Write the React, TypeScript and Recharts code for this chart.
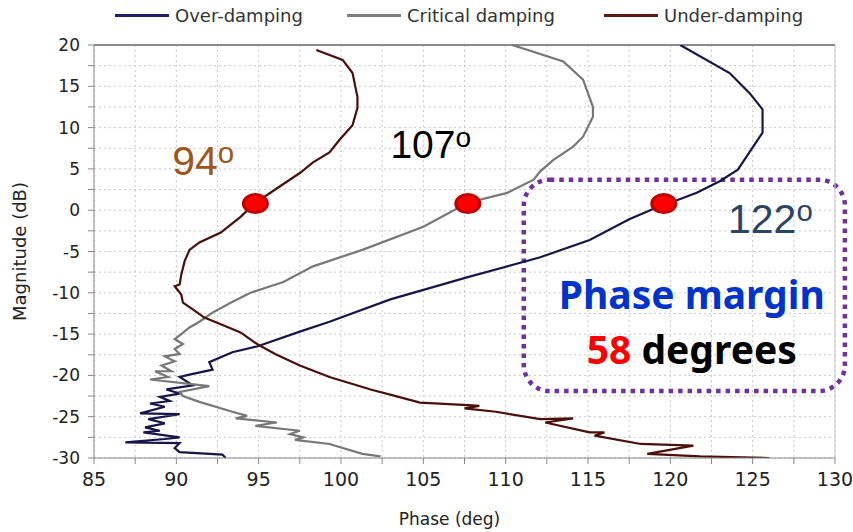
import React from "react";
import {
  LineChart,
  Line,
  XAxis,
  YAxis,
  CartesianGrid,
  ReferenceDot,
  ReferenceArea,
  ReferenceLine,
  Legend,
  Label,
} from "recharts";

// phase (deg), magnitude (dB)
const overDamping = [
  [120.6, 20.0], [123.6, 16.6], [124.8, 14.2], [125.6, 12.2], [125.6, 9.4], [124.8, 7.0],
  [124.1, 4.9], [123.0, 3.5], [121.6, 2.1], [120.4, 1.2], [119.6, 0.7], [117.5, -1.1],
  [115.1, -3.6], [112.1, -5.7], [107.7, -8.1], [103.0, -10.8], [99.3, -13.5], [97.5, -14.7],
  [94.9, -16.5], [93.4, -17.2], [92.0, -18.4], [92.2, -19.3], [90.8, -19.9], [90.2, -20.2],
  [91.0, -21.2], [89.4, -21.7], [90.2, -22.2], [89.0, -22.6], [89.6, -23.1], [88.4, -23.4],
  [89.3, -23.8], [87.8, -24.6], [90.2, -24.7], [88.3, -25.3], [89.3, -25.8], [88.1, -26.3],
  [89.0, -26.7], [88.0, -26.9], [90.2, -27.5], [89.3, -27.7], [86.9, -28.1], [90.2, -28.2],
  [89.9, -28.8], [90.2, -29.3], [92.8, -29.6], [93.0, -30.0],
];

const criticalDamping = [
  [110.4, 20.0], [113.5, 18.0], [114.7, 15.8], [115.3, 12.5], [115.3, 11.3], [114.7, 8.9],
  [114.1, 7.7], [112.9, 6.1], [112.1, 4.7], [111.7, 3.7], [110.1, 2.1], [107.7, 0.9],
  [105.0, -2.0], [101.3, -4.8], [98.3, -6.8], [96.5, -8.7], [94.5, -10.0], [93.3, -11.2],
  [92.2, -12.4], [91.4, -13.5], [90.8, -14.2], [90.3, -15.0], [89.9, -15.6], [90.4, -16.2],
  [89.9, -16.8], [90.2, -17.4], [89.3, -17.7], [89.9, -18.3], [89.1, -18.8], [89.7, -19.5],
  [88.7, -19.5], [89.5, -20.2], [88.4, -20.5], [92.0, -21.3], [90.2, -22.0], [90.4, -22.5],
  [91.4, -23.2], [93.4, -24.4], [94.3, -24.9], [93.6, -25.2], [96.1, -25.7], [94.8, -26.1],
  [97.5, -26.7], [96.9, -27.1], [97.7, -27.5], [97.2, -27.8], [99.3, -28.3], [101.3, -29.5],
  [102.4, -29.8],
];

const underDamping = [
  [98.5, 19.4], [100.1, 18.2], [100.7, 16.6], [101.0, 13.7], [101.0, 12.4], [100.7, 10.3],
  [99.9, 8.5], [99.3, 7.0], [98.3, 5.8], [97.5, 4.5], [96.3, 2.9], [94.8, 0.9],
  [93.9, -0.8], [92.7, -2.7], [91.4, -3.9], [90.8, -4.8], [90.5, -6.2], [90.3, -7.8],
  [90.2, -9.0], [89.9, -9.2], [90.3, -10.2], [90.4, -11.2], [91.0, -12.0], [91.7, -13.0],
  [92.7, -13.8], [93.9, -14.8], [94.9, -16.2], [96.0, -17.4], [97.5, -18.8], [99.3, -20.2],
  [101.8, -21.7], [103.5, -22.6], [104.8, -23.3], [107.7, -23.6], [108.4, -23.7], [107.5, -24.0],
  [109.4, -24.4], [112.1, -25.3], [114.1, -25.2], [112.4, -25.7], [115.1, -26.9], [116.0, -26.9],
  [115.4, -27.3], [118.2, -28.3], [121.4, -28.5], [118.6, -29.5], [121.8, -29.8], [126.0, -30.0],
  [123.5, -30.0],
];

const crossings = [94.8, 107.7, 119.6];
const crossingMag = 0.8;

const xTicks = Array.from({ length: 19 }, (_, i) => 85 + i * 2.5);
const yTicks = Array.from({ length: 21 }, (_, i) => -30 + i * 2.5);

const series = [
  { name: "Over-damping", data: overDamping, color: "#16164a", legend: "#1f1f6e" },
  { name: "Critical damping", data: criticalDamping, color: "#777777", legend: "#7f7f7f" },
  { name: "Under-damping", data: underDamping, color: "#4a0f08", legend: "#5e1a10" },
];

const legendLeft = [115, 347, 604];

const toRows = (pts) => pts.map(([phase, mag]) => ({ phase, mag }));
const every5 = (v) => (v % 5 === 0 ? String(v) : "");

const renderLegend = () => (
  <div style={{ position: "relative", height: 28, fontFamily: "DejaVu Sans", fontSize: 18, color: "#333" }}>
    {series.map((s, i) => (
      <div
        key={s.name}
        style={{ position: "absolute", left: legendLeft[i], top: 0, display: "flex", alignItems: "center", whiteSpace: "nowrap" }}
      >
        <span style={{ display: "inline-block", width: 54, height: 3, background: s.legend, marginRight: 6 }} />
        {s.name}
      </div>
    ))}
  </div>
);

const degreeLabel = (text, color, size) => (props) => {
  const { viewBox } = props;
  const x = viewBox.x + viewBox.width / 2;
  const y = viewBox.y + viewBox.height / 2;
  return (
    <text x={x} y={y} fill={color} fontFamily="Liberation Sans, Arial" fontSize={size}>
      {text}
      <tspan dy={-size * 0.28} fontSize={size * 0.72}>o</tspan>
    </text>
  );
};

const boxLine = (parts) => (props) => {
  const { viewBox } = props;
  const x = viewBox.x + viewBox.width / 2;
  const y = viewBox.y + viewBox.height / 2;
  return (
    <text x={x} y={y} textAnchor="middle" fontFamily="Noto Sans, Open Sans" fontWeight="bold" fontSize={39}>
      {parts.map((p, i) => (
        <tspan key={i} fill={p.color}>{p.text}</tspan>
      ))}
    </text>
  );
};

const noDot = { r: 1, fill: "none", stroke: "none" };

export default function App() {
  return (
    <div style={{ position: "absolute", left: 0, top: 0, width: 853, height: 532, background: "#fff" }}>
      <LineChart width={853} height={532} margin={{ top: 45, right: 18, bottom: 0, left: 0 }}>
        <CartesianGrid stroke="#c8c8c8" strokeDasharray="2 3" />
        <XAxis
          type="number"
          dataKey="phase"
          domain={[85, 130]}
          ticks={xTicks}
          interval={0}
          allowDataOverflow
          tickFormatter={every5}
          height={74}
          stroke="#888"
          tickSize={6}
          tickMargin={9}
          tick={{ fill: "#222", fontFamily: "DejaVu Sans", fontSize: 19 }}
        >
          <Label
            value="Phase (deg)"
            position="insideBottom"
            offset={7}
            dx={-15}
            style={{ fill: "#222", fontFamily: "DejaVu Sans", fontSize: 17 }}
          />
        </XAxis>
        <YAxis
          type="number"
          dataKey="mag"
          domain={[-30, 20]}
          ticks={yTicks}
          interval={0}
          allowDataOverflow
          tickFormatter={every5}
          width={94}
          stroke="#888"
          tickSize={6}
          tickMargin={8}
          tick={{ fill: "#222", fontFamily: "DejaVu Sans", fontSize: 17 }}
        >
          <Label
            value="Magnitude (dB)"
            angle={-90}
            position="insideLeft"
            offset={20}
            style={{ fill: "#222", fontFamily: "DejaVu Sans", fontSize: 18, textAnchor: "middle" }}
          />
        </YAxis>
        <ReferenceLine y={20} stroke="#8a8a8a" strokeWidth={2} />
        <ReferenceLine x={130} stroke="#c8c8c8" />
        <Legend verticalAlign="middle" align="center" content={renderLegend} wrapperStyle={{ top: 5, left: 0, width: 853 }} />
        {series.map((s) => (
          <Line
            key={s.name}
            name={s.name}
            data={toRows(s.data)}
            dataKey="mag"
            type="linear"
            stroke={s.color}
            strokeWidth={2.2}
            dot={false}
            activeDot={false}
            legendType="line"
            isAnimationActive={false}
          />
        ))}
        {crossings.map((p) => (
          <ReferenceDot
            key={p}
            x={p}
            y={crossingMag}
            ifOverflow="visible"
            shape={(d) => <ellipse cx={d.cx} cy={d.cy} rx={12} ry={9} fill="#ff0000" stroke="#c00000" strokeWidth={3} />}
          />
        ))}
        <ReferenceArea
          x1={111.1}
          x2={130.6}
          y1={3.7}
          y2={-21.9}
          ifOverflow="visible"
          shape={(r) => (
            <rect x={r.x} y={r.y} width={r.width} height={r.height} rx={26} fill="none" stroke="#7030a0" strokeWidth={4.5} strokeDasharray="4.5 5" />
          )}
        />
        <ReferenceDot x={89.75} y={4.3} ifOverflow="visible" {...noDot} label={degreeLabel("94", "#a0561a", 41)} />
        <ReferenceDot x={103.0} y={6.35} ifOverflow="visible" {...noDot} label={degreeLabel("107", "#000", 39)} />
        <ReferenceDot x={123.5} y={-2.7} ifOverflow="visible" {...noDot} label={degreeLabel("122", "#2a4564", 41)} />
        <ReferenceDot
          x={121.3}
          y={-12.0}
          ifOverflow="visible"
          {...noDot}
          label={boxLine([{ text: "Phase margin", color: "#0033cc" }])}
        />
        <ReferenceDot
          x={121.3}
          y={-18.65}
          ifOverflow="visible"
          {...noDot}
          label={boxLine([
            { text: "58", color: "#ff0000" },
            { text: " degrees", color: "#000" },
          ])}
        />
      </LineChart>
    </div>
  );
}
